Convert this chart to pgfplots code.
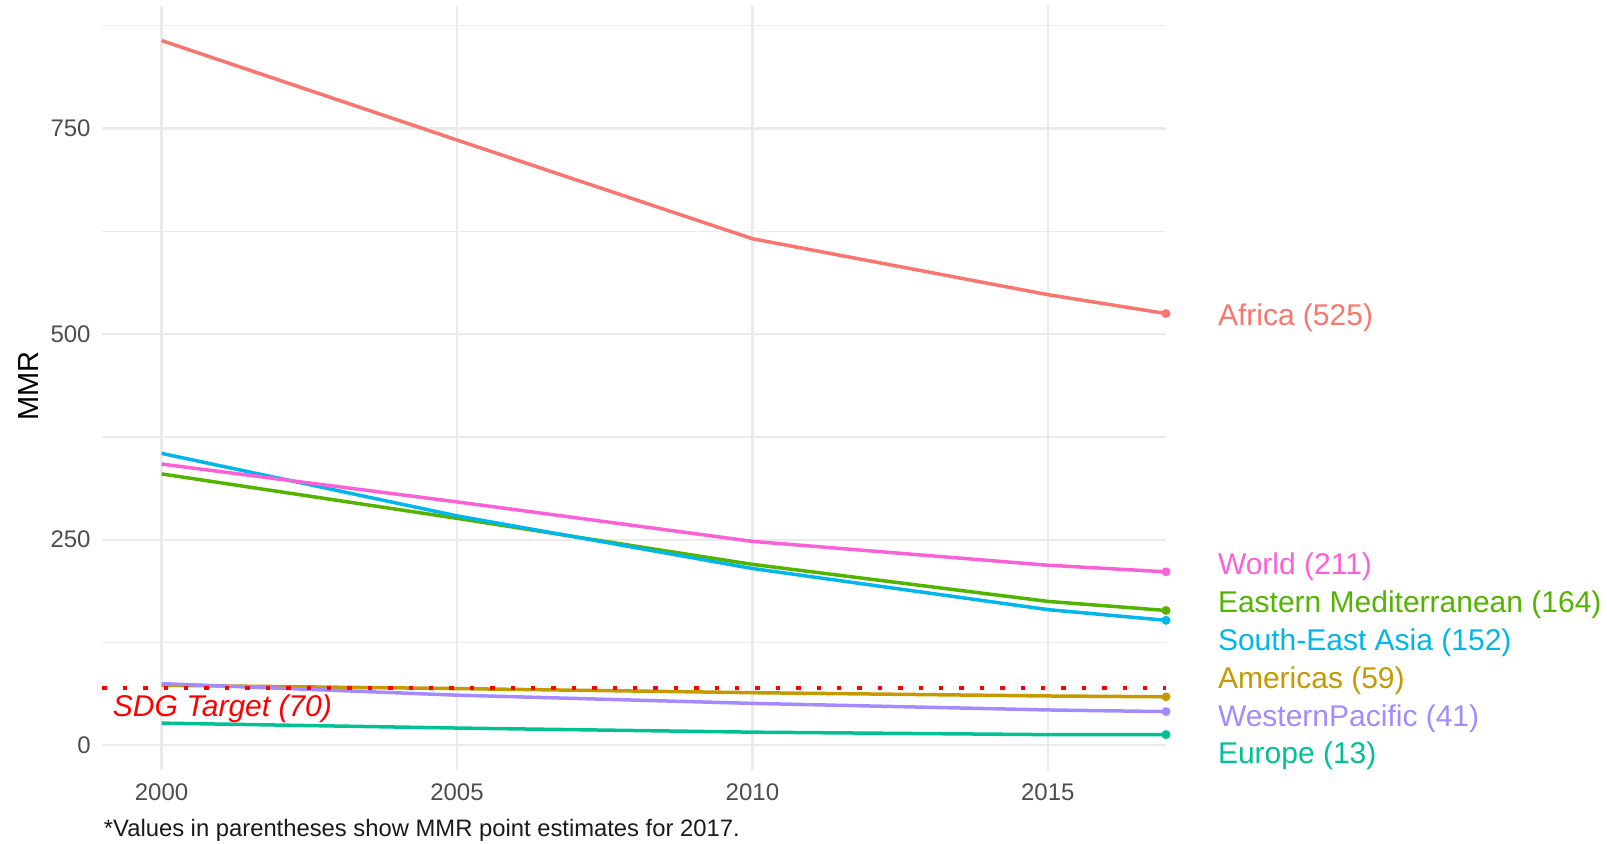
\documentclass[border=0pt]{standalone}
\usepackage{pgfplots}
\pgfplotsset{compat=1.18}
\usepackage{fontspec}
\setmainfont{Liberation Sans}
\definecolor{cAfr}{HTML}{F8766D}
\definecolor{cAme}{HTML}{C49A00}
\definecolor{cEM}{HTML}{53B400}
\definecolor{cEur}{HTML}{00C094}
\definecolor{cSEA}{HTML}{00B6EB}
\definecolor{cWP}{HTML}{A58AFF}
\definecolor{cWor}{HTML}{FB61D7}
\definecolor{gridc}{HTML}{EBEBEB}
\definecolor{tickc}{HTML}{4D4D4D}
\definecolor{capc}{HTML}{1A1A1A}
\begin{document}
\begin{tikzpicture}
\path[use as bounding box] (0,0) rectangle (803.5pt,422pt);
\begin{axis}[
  at={(51.25pt,37pt)}, anchor=south west,
  scale only axis, width=531.75pt, height=382pt,
  xmin=1999, xmax=2017, ymin=-30, ymax=899,
  clip=false,
  axis line style={draw=none},
  tick style={draw=none},
  xtick={2000,2005,2010,2015},
  ytick={0,250,500,750},
  minor ytick={125,375,625,875},
  xmajorgrids, ymajorgrids, yminorgrids,
  major grid style={draw=gridc, line width=1.1pt},
  minor grid style={draw=gridc, line width=0.6pt},
  /pgf/number format/assume math mode=true,
  /pgf/number format/set thousands separator={},
  ticklabel style={font=\fontsize{12}{14}\selectfont, text=tickc},
  yticklabel style={anchor=east, inner sep=0pt, xshift=-5.75pt},
  xticklabel style={anchor=north, inner sep=0pt, yshift=-6.75pt},
  every axis plot/.append style={line width=1.75pt, mark size=1.3pt, mark indices={5}},
]
\addplot[cAfr, mark=*] coordinates {(2000,857) (2005,736) (2010,616) (2015,548) (2017,525)};
\addplot[cAme, mark=*] coordinates {(2000,73) (2005,69) (2010,64) (2015,60) (2017,59)};
\addplot[cEM, mark=*] coordinates {(2000,330) (2005,276) (2010,220) (2015,175) (2017,164)};
\addplot[cEur, mark=*] coordinates {(2000,27) (2005,21) (2010,16) (2015,13) (2017,13)};
\addplot[cSEA, mark=*] coordinates {(2000,355) (2005,279) (2010,215) (2015,165) (2017,152)};
\addplot[cWP, mark=*] coordinates {(2000,75) (2005,61) (2010,51) (2015,43) (2017,41)};
\addplot[cWor, mark=*] coordinates {(2000,342) (2005,296) (2010,248) (2015,219) (2017,211)};
\addplot[red, line width=2.2pt, dash pattern=on 2.2pt off 8pt, mark=none] coordinates {(1999,70) (2017,70)};
\begin{scope}[every node/.style={anchor=base west, inner sep=0pt, font=\fontsize{15}{18}\selectfont, xshift=25.8pt}]
\node[text=cAfr] at (axis cs:2017,510.6) {Africa (525)};
\node[text=cWor] at (axis cs:2017,207.6) {World (211)};
\node[text=cEM] at (axis cs:2017,161.5) {Eastern Mediterranean (164)};
\node[text=cSEA] at (axis cs:2017,115.4) {South-East Asia (152)};
\node[text=cAme] at (axis cs:2017,69.2) {Americas (59)};
\node[text=cWP] at (axis cs:2017,23) {WesternPacific (41)};
\node[text=cEur] at (axis cs:2017,-21.9) {Europe (13)};
\end{scope}
\node[anchor=base west, inner sep=0pt, text=red, font=\fontsize{15}{18}\selectfont\itshape] at (axis cs:1999.17,35.3) {SDG Target (70)};
\end{axis}
\node[rotate=90, inner sep=0pt, font=\fontsize{14.5}{17}\selectfont] at (14.5pt,229pt) {MMR};
\node[anchor=base west, inner sep=0pt, text=capc, font=\fontsize{11.9}{14}\selectfont] at (51.75pt,3.75pt) {*Values in parentheses show MMR point estimates for 2017.};
\end{tikzpicture}
\end{document}
